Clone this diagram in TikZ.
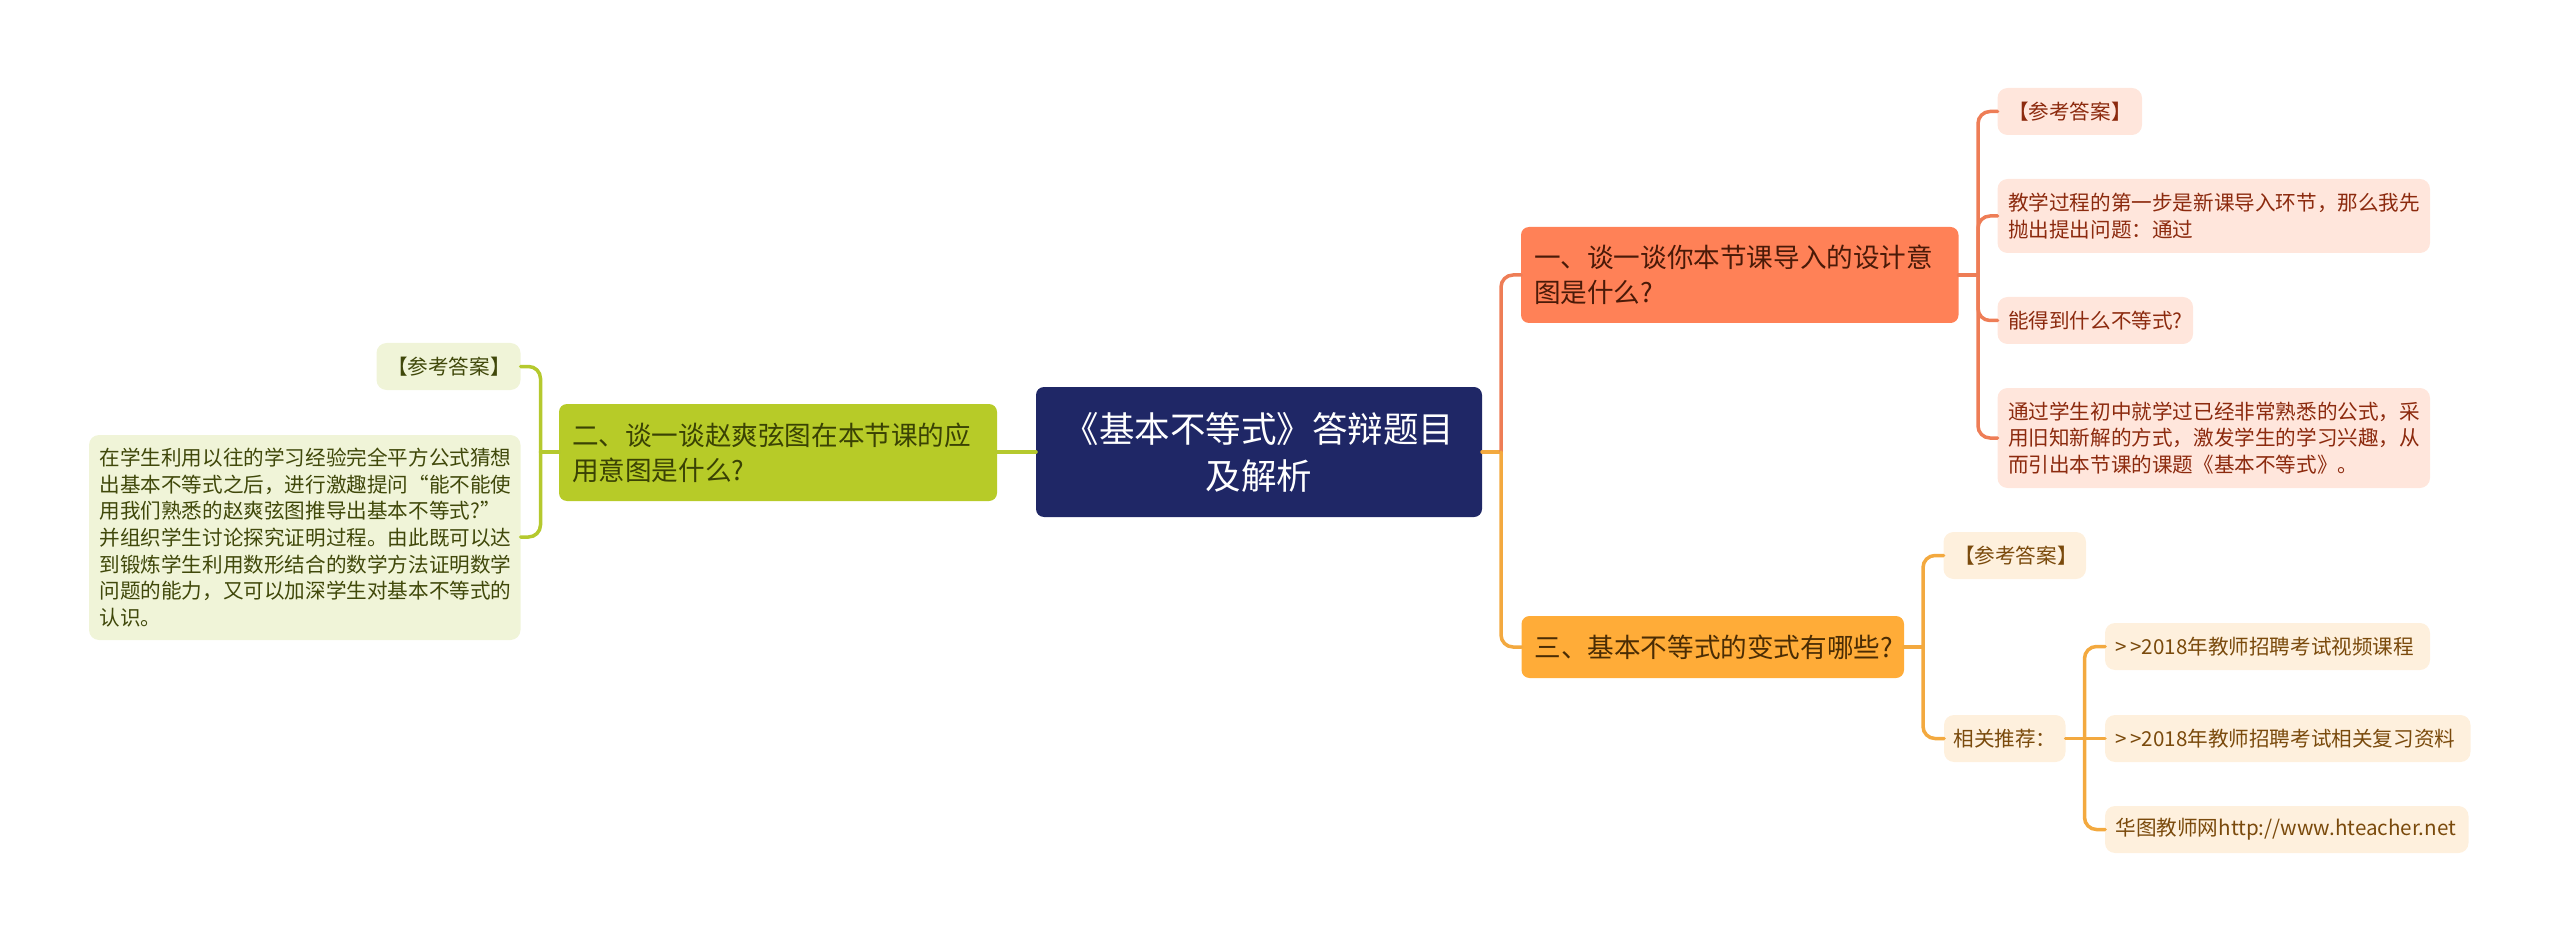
\documentclass[tikz,border=0pt]{standalone}
\usepackage{fontspec}
\setmainfont{Noto Sans CJK SC}
\definecolor{rootc}{HTML}{1F2766}
\definecolor{orA}{HTML}{FF8157}
\definecolor{orL}{HTML}{FFE6DC}
\definecolor{orC}{HTML}{EE7D56}
\definecolor{orT}{HTML}{8C2A0E}
\definecolor{orD}{HTML}{4A1A08}
\definecolor{yeA}{HTML}{FFAC38}
\definecolor{yeL}{HTML}{FEF0DD}
\definecolor{yeC}{HTML}{F3A93F}
\definecolor{yeT}{HTML}{7A4A0C}
\definecolor{yeD}{HTML}{4A2C04}
\definecolor{grA}{HTML}{B7CB28}
\definecolor{grL}{HTML}{F0F4D8}
\definecolor{grC}{HTML}{B5C92E}
\definecolor{grT}{HTML}{40480A}
\definecolor{grD}{HTML}{3A4204}
\tikzset{
  x=1pt,y=-1pt,
  boxbase/.style={anchor=north west,inner ysep=0pt,outer sep=0pt,align=left},
  rootbox/.style={boxbase,fill=rootc,draw=none,rounded corners=8pt,text=white,inner xsep=10pt,align=center,font=\fontsize{35.5}{47}\selectfont},
  primbox/.style={boxbase,rounded corners=8pt,inner xsep=13pt,font=\fontsize{26.6}{35}\selectfont},
  leafbox/.style={boxbase,rounded corners=10pt,inner xsep=10.5pt,font=\fontsize{20.6}{26.6}\selectfont},
  conn/.style={line width=3.5pt,line cap=round},
  elbow/.style={conn,rounded corners=12pt},
}
\begin{document}
\begin{tikzpicture}
\useasboundingbox (0,0) rectangle (2560,941);
% root
\node[rootbox,minimum width=446,minimum height=130,text width=426] (root) at (1036,387) {《基本不等式》答辩题目\\及解析};
% primary
\node[primbox,fill=orA,text=orD,minimum width=437.5,minimum height=96,text width=411.5] (n1) at (1521,227) {一、谈一谈你本节课导入的设计意\\图是什么?};
\node[primbox,fill=grA,text=grD,minimum width=438,minimum height=97,text width=412] (n2) at (559,404) {二、谈一谈赵爽弦图在本节课的应\\用意图是什么?};
\node[primbox,fill=yeA,text=yeD,minimum width=382.5,minimum height=62,text width=356.5] (n3) at (1521.5,616) {三、基本不等式的变式有哪些?};
% orange leaves
\node[leafbox,fill=orL,text=orT,minimum width=144.5,minimum height=47,text width=123.5,align=center] (a1) at (1997.5,88) {【参考答案】};
\node[leafbox,fill=orL,text=orT,minimum width=432.5,minimum height=74,text width=411.5] (a2) at (1997.5,179) {教学过程的第一步是新课导入环节，那么我先\\抛出提出问题：通过};
\node[leafbox,fill=orL,text=orT,minimum width=195.5,minimum height=47,text width=174.5] (a3) at (1997.5,297) {能得到什么不等式?};
\node[leafbox,fill=orL,text=orT,minimum width=432.5,minimum height=100,text width=411.5] (a4) at (1997.5,388) {通过学生初中就学过已经非常熟悉的公式，采\\用旧知新解的方式，激发学生的学习兴趣，从\\而引出本节课的课题《基本不等式》。};
% green leaves
\node[leafbox,fill=grL,text=grT,minimum width=144,minimum height=47,text width=123,align=center] (l1) at (376.5,343) {【参考答案】};
\node[leafbox,fill=grL,text=grT,minimum width=431.5,minimum height=205,text width=410.5] (l2) at (89,435) {在学生利用以往的学习经验完全平方公式猜想\\出基本不等式之后，进行激趣提问“能不能使\\用我们熟悉的赵爽弦图推导出基本不等式?”\\并组织学生讨论探究证明过程。由此既可以达\\到锻炼学生利用数形结合的数学方法证明数学\\问题的能力，又可以加深学生对基本不等式的\\认识。};
% yellow leaves
\node[leafbox,fill=yeL,text=yeT,minimum width=142.5,minimum height=47,text width=121.5,align=center] (c1) at (1943.5,532) {【参考答案】};
\node[leafbox,fill=yeL,text=yeT,minimum width=121.5,minimum height=47,text width=102.5,inner xsep=9.5pt] (c2) at (1944,715) {相关推荐：};
\node[leafbox,fill=yeL,text=yeT,minimum width=325,minimum height=47,text width=304] (d1) at (2105,623) {>\,>2018年教师招聘考试视频课程};
\node[leafbox,fill=yeL,text=yeT,minimum width=365.5,minimum height=47,text width=344.5] (d2) at (2105,715) {>\,>2018年教师招聘考试相关复习资料};
\node[leafbox,fill=yeL,text=yeT,minimum width=363.5,minimum height=47,text width=342.5] (d3) at (2105,806) {华图教师网http://www.hteacher.net};
% trunk coordinates
\coordinate (trR) at (1501,452);
\coordinate (trL) at (540.5,452);
\coordinate (tr1) at (1978,275);
\coordinate (tr3) at (1923,647);
\coordinate (trC) at (2084.5,738.5);
% connectors
\draw[conn,color=grC] (root.west |- trL) -- (n2.east |- trL);
\draw[conn,color=grC] (n2.west |- trL) -- (trL);
\draw[elbow,color=grC] (trL) |- (l1.east);
\draw[elbow,color=grC] (trL) |- (l2.east |- 0,537);
\draw[conn,color=yeC] (root.east |- trR) -- (trR);
\draw[elbow,color=orC] (trR) |- (n1.west);
\draw[elbow,color=yeC] (trR) |- (n3.west);
\draw[conn,color=orC] (n1.east) -- (tr1);
\draw[elbow,color=orC] (tr1) |- (a1.west);
\draw[elbow,color=orC] (tr1) |- (a2.west);
\draw[elbow,color=orC] (tr1) |- (a3.west);
\draw[elbow,color=orC] (tr1) |- (a4.west);
\draw[conn,color=yeC] (n3.east) -- (tr3);
\draw[elbow,color=yeC] (tr3) |- (c1.west);
\draw[elbow,color=yeC] (tr3) |- (c2.west);
\draw[conn,color=yeC] (c2.east) -- (d2.west);
\draw[elbow,color=yeC] (trC) |- (d1.west);
\draw[elbow,color=yeC] (trC) |- (d3.west);
\end{tikzpicture}
\end{document}
